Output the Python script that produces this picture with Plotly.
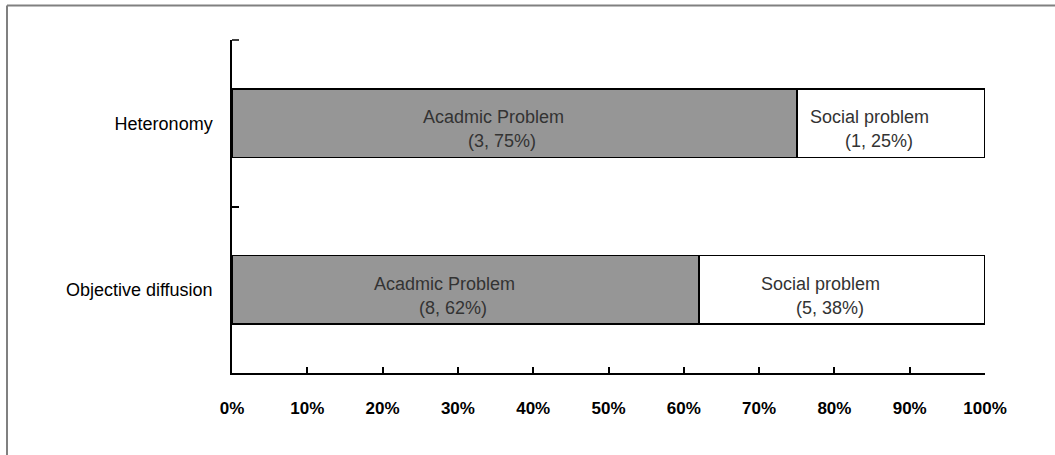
import plotly.graph_objects as go

# Problem types per category (counts and shares)
categories = ["Heteronomy", "Objective diffusion"]
academic_share = [75, 62]
academic_count = [3, 8]
social_share = [25, 38]
social_count = [1, 5]
x_ticks = [0, 10, 20, 30, 40, 50, 60, 70, 80, 90, 100]
x_tick_labels = [f"{v}%" for v in x_ticks]

FONT = "Liberation Sans, Arial, sans-serif"
TEXT_COLOR = "#333333"

fig = go.Figure()

fig.add_trace(go.Bar(
    y=categories, x=academic_share, orientation="h",
    name="Acadmic Problem",
    marker=dict(color="#969696", line=dict(color="#000000", width=1.5)),
    width=0.41, hoverinfo="skip",
))
fig.add_trace(go.Bar(
    y=categories, x=social_share, orientation="h",
    name="Social problem",
    marker=dict(color="#ffffff", line=dict(color="#000000", width=1.5)),
    width=0.41, hoverinfo="skip",
))

# Two-line segment labels: name on top, (count, share) below
def segment_labels(name, bases, shares, counts):
    notes = []
    for cat, base, share, count in zip(categories, bases, shares, counts):
        mid = base + share / 2
        notes.append(dict(x=mid, y=cat, text=name, showarrow=False,
                          xshift=-21, yshift=6,
                          font=dict(family=FONT, size=18, color=TEXT_COLOR)))
        notes.append(dict(x=mid, y=cat, text=f"({count}, {share}%)", showarrow=False,
                          xshift=-12, yshift=-18,
                          font=dict(family=FONT, size=18, color=TEXT_COLOR)))
    return notes

annotations = (segment_labels("Acadmic Problem", [0, 0], academic_share, academic_count)
               + segment_labels("Social problem", academic_share, social_share, social_count))

L, R, T, B = 232, 70, 40, 82
W, H = 1055, 455
plot_w = W - L - R
plot_h = H - T - B

fig.update_layout(
    barmode="stack",
    width=W, height=H,
    margin=dict(l=L, r=R, t=T, b=B, pad=0),
    paper_bgcolor="#ffffff", plot_bgcolor="#ffffff",
    showlegend=False,
    annotations=annotations,
    xaxis=dict(
        range=[0, 100], tickmode="array", tickvals=x_ticks, ticktext=x_tick_labels,
        ticks="inside", ticklen=6, tickwidth=1.5, tickcolor="#000000",
        showline=True, linecolor="#000000", linewidth=2,
        showgrid=False, zeroline=False,
        tickfont=dict(family=FONT, size=17, color="#000000", weight="bold"),
        ticklabelstandoff=19,
    ),
    yaxis=dict(
        type="category", categoryorder="array", categoryarray=categories,
        autorange="reversed",
        tickson="boundaries",
        ticks="inside", ticklen=7, tickwidth=1.5, tickcolor="#000000",
        showline=True, linecolor="#000000", linewidth=1.5,
        showgrid=False, zeroline=False,
        tickfont=dict(family=FONT, size=18, color="#000000"),
        ticklabelstandoff=14,
    ),
)

# Short tick closing the top of the category axis
fig.add_shape(type="line", xref="paper", yref="paper",
              x0=0, x1=7 / plot_w, y0=1, y1=1,
              line=dict(color="#000000", width=1.5))

# Frame lines along the top and left edges of the page
left_px, top_px = 7, 5.5
fig.add_shape(type="line", xref="paper", yref="paper",
              x0=(left_px - L) / plot_w, x1=(W + 10 - L) / plot_w,
              y0=1 + (T - top_px) / plot_h, y1=1 + (T - top_px) / plot_h,
              line=dict(color="#808080", width=2))
fig.add_shape(type="line", xref="paper", yref="paper",
              x0=(left_px - L) / plot_w, x1=(left_px - L) / plot_w,
              y0=1 + (T - top_px) / plot_h, y1=-(B + 10) / plot_h,
              line=dict(color="#808080", width=2))

fig.write_html("out.html")
